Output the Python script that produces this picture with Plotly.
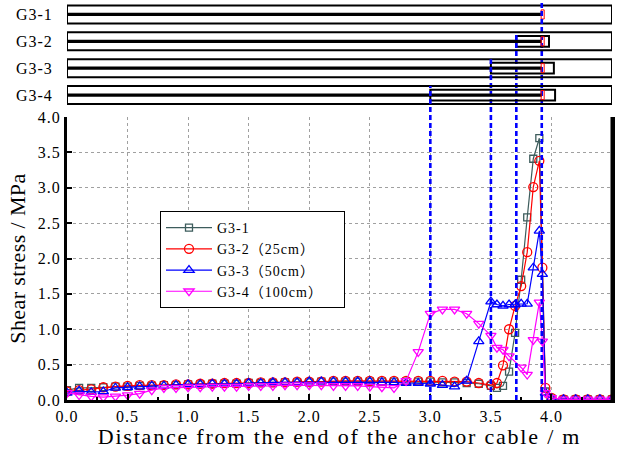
import plotly.graph_objects as go

# ---------------- data ----------------
x_pos = [0.0, 0.1, 0.2, 0.3, 0.4, 0.5, 0.6, 0.7, 0.8, 0.9,
         1.0, 1.1, 1.2, 1.3, 1.4, 1.5, 1.6, 1.7, 1.8, 1.9,
         2.0, 2.1, 2.2, 2.3, 2.4, 2.5, 2.6, 2.7, 2.8, 2.9,
         3.0, 3.1, 3.2, 3.3, 3.4, 3.5,
         3.55, 3.6, 3.65, 3.7, 3.75, 3.8, 3.85, 3.9, 3.925, 3.95, 4.0,
         4.1, 4.2, 4.3, 4.4, 4.5]

g31 = [0.14, 0.17, 0.17, 0.18, 0.19, 0.19, 0.20, 0.20, 0.21, 0.21,
       0.22, 0.22, 0.23, 0.23, 0.23, 0.24, 0.24, 0.24, 0.25, 0.25,
       0.25, 0.26, 0.26, 0.26, 0.26, 0.26, 0.26, 0.26, 0.26, 0.26,
       0.26, 0.25, 0.25, 0.24, 0.23, 0.20,
       0.17, 0.20, 0.40, 0.95, 1.70, 2.58, 3.41, 3.70, None, 0.12, 0.02,
       0.01, 0.01, 0.01, 0.01, 0.01]

g32 = [0.12, 0.14, 0.15, 0.18, 0.19, 0.20, 0.21, 0.21, 0.21, 0.22,
       0.22, 0.23, 0.23, 0.24, 0.24, 0.24, 0.25, 0.25, 0.25, 0.26,
       0.26, 0.26, 0.27, 0.27, 0.27, 0.27, 0.27, 0.27, 0.27, 0.27,
       0.27, 0.27, 0.26, 0.26, 0.24, 0.21,
       0.24, 0.49, 1.00, 1.33, 1.61, 2.09, 3.01, 3.38, 1.87, 0.17, 0.03,
       0.01, 0.01, 0.01, 0.01, 0.01]

g33 = [0.10, 0.13, 0.11, 0.12, 0.17, 0.18, 0.19, 0.20, 0.20, 0.21,
       0.22, 0.22, 0.23, 0.23, 0.23, 0.24, 0.24, 0.25, 0.25, 0.25,
       0.26, 0.26, 0.26, 0.26, 0.26, 0.26, 0.25, 0.25, 0.24, 0.24,
       0.23, 0.21, 0.19, 0.27, 0.83, 1.39,
       1.35, 1.33, 1.35, 1.35, 1.36, 1.36, 1.87, 2.39, 1.78, 0.10, 0.02,
       0.01, 0.01, 0.01, 0.01, 0.01]

g34 = [0.10, 0.07, 0.05, 0.04, 0.05, 0.07, 0.09, 0.14, 0.17, 0.17,
       0.18, 0.18, 0.19, 0.19, 0.19, 0.20, 0.20, 0.20, 0.21, 0.21,
       0.21, 0.21, 0.20, 0.20, 0.20, 0.19, 0.18, 0.17, 0.27, 0.68,
       1.22, 1.28, 1.28, 1.22, 1.08, 0.91,
       0.74, 0.71, 0.62, None, 0.46, 0.36, 0.85, 1.38, 0.83, 0.10, 0.03,
       0.01, 0.01, 0.01, 0.01, 0.01]

series_names = ["G3-1", "G3-2（25cm）", "G3-3（50cm）", "G3-4（100cm）"]

# schematic of the specimens (top panel)
row_labels = ["G3-1", "G3-2", "G3-3", "G3-4"]
row_level = [3, 2, 1, 0]
sleeve_start = [None, 3.71, 3.5, 3.0]
sleeve_end = [None, 3.98, 4.02, 4.03]
cable_end = 3.92
anchor_x = 3.92
marker_x = [3.92, 3.71, 3.5, 3.0]   # blue dashed reference lines

# ---------------- styling ----------------
SERIF = "Liberation Serif"
LEG_FONT = "Liberation Serif, Noto Sans CJK SC"
colors = ["#3d5c5c", "#ff0000", "#0000ff", "#ff00ff"]
symbols = ["square-open", "circle-open", "triangle-up-open", "triangle-down-open"]
msizes = [7, 9, 9, 9]

L, R, T, B = 67, 8, 1, 49
H = 449
plot_h = H - T - B
main_top = (400 - 117) / plot_h
y2_dom = [(400 - 108.5) / plot_h, 1.0]
y2_range = [-0.5, 3.5]


def y2_to_paper(v):
    return y2_dom[0] + (v - y2_range[0]) / (y2_range[1] - y2_range[0]) * (y2_dom[1] - y2_dom[0])


fig = go.Figure()
for name, ys, c, s, ms in zip(series_names, [g31, g32, g33, g34], colors, symbols, msizes):
    fig.add_trace(go.Scatter(
        x=x_pos, y=ys, name=name, mode="lines+markers", connectgaps=True,
        line=dict(color=c, width=1.2),
        marker=dict(symbol=s, size=ms, color=c, line=dict(color=c, width=1.3)),
        xaxis="x", yaxis="y"))

shapes = []
half_outer = 0.335
half_sleeve = 0.2
for i, lvl in enumerate(row_level):
    shapes.append(dict(type="rect", xref="x2", yref="y2", x0=0, x1=4.5,
                       y0=lvl - half_outer, y1=lvl + half_outer,
                       line=dict(color="black", width=2), fillcolor="rgba(0,0,0,0)"))
    shapes.append(dict(type="line", xref="x2", yref="y2", x0=-0.02, x1=cable_end,
                       y0=lvl, y1=lvl, line=dict(color="black", width=3.2)))
    if sleeve_start[i] is not None:
        shapes.append(dict(type="rect", xref="x2", yref="y2", x0=sleeve_start[i], x1=sleeve_end[i],
                           y0=lvl - half_sleeve, y1=lvl + half_sleeve,
                           line=dict(color="black", width=2), fillcolor="rgba(0,0,0,0)"))
    shapes.append(dict(type="rect", xref="x2", yref="y2", x0=anchor_x - 0.005, x1=anchor_x + 0.02,
                       y0=lvl - 0.17, y1=lvl + 0.17,
                       line=dict(color="red", width=1), fillcolor="rgba(255,255,255,0)"))
    shapes.append(dict(type="line", xref="x", yref="paper", x0=marker_x[i], x1=marker_x[i],
                       y0=0, y1=y2_to_paper(lvl + half_outer) + (0.01 if i == 0 else 0),
                       line=dict(color="#0000ff", width=2.6, dash="5px,3px"), layer="above"))

# right frame line of the main plot
shapes.append(dict(type="line", xref="x domain", yref="y domain", x0=1, x1=1, y0=0, y1=1,
                   line=dict(color="black", width=3), layer="above"))

fig.update_layout(
    width=620, height=449,
    margin=dict(l=L, r=R, t=T, b=B, autoexpand=False),
    paper_bgcolor="white", plot_bgcolor="white",
    font=dict(family=SERIF, size=16, color="black"),
    shapes=shapes,
    showlegend=True,
    legend=dict(x=(160 - L) / (620 - L - R), y=(400 - 211) / plot_h, xanchor="left", yanchor="top",
                bgcolor="white", bordercolor="black", borderwidth=1,
                font=dict(family=LEG_FONT, size=14), itemwidth=46, tracegroupgap=0),
    xaxis=dict(domain=[0, 1], anchor="y", range=[0, 4.5], dtick=0.5, tick0=0, tickformat=".1f",
               ticks="inside", ticklen=6, tickwidth=2, tickcolor="black",
               minor=dict(dtick=0.25, tick0=0, ticks="inside", ticklen=3, tickwidth=1.5,
                          tickcolor="black", showgrid=False),
               showline=True, linecolor="black", linewidth=3, mirror=False,
               showgrid=True, gridcolor="#a0a0a0", griddash="dot", gridwidth=1, zeroline=False,
               tickfont=dict(family=SERIF, size=16),
               title=dict(text="Distance from the end of the anchor cable / m",
                          font=dict(family=SERIF, size=22), standoff=5)),
    yaxis=dict(domain=[0, main_top], anchor="x", range=[0, 4.0], dtick=0.5, tick0=0, tickformat=".1f",
               ticks="inside", ticklen=5, tickwidth=2, tickcolor="black",
               showline=True, linecolor="black", linewidth=3, mirror=True,
               showgrid=True, gridcolor="#a0a0a0", griddash="dot", gridwidth=1, zeroline=False,
               tickfont=dict(family=SERIF, size=16),
               title=dict(text="Shear stress / MPa", font=dict(family=SERIF, size=22), standoff=10)),
    xaxis3=dict(overlaying="x", matches="x", anchor="y", side="top", range=[0, 4.5],
                showline=True, linecolor="#2f4f4f", linewidth=3,
                ticks="inside", dtick=0.25, tick0=0, ticklen=4, tickwidth=2, tickcolor="#2f4f4f",
                showticklabels=False, showgrid=False, zeroline=False),
    xaxis2=dict(domain=[0, 1], anchor="y2", matches="x", range=[0, 4.5], visible=False),
    yaxis2=dict(domain=y2_dom, anchor="x2", range=y2_range, tickvals=row_level, ticktext=row_labels,
                showgrid=False, zeroline=False, showline=False, ticks="outside", ticklen=10,
                tickcolor="rgba(0,0,0,0)", tickfont=dict(family=SERIF, size=16)),
)

# letter spacing as in the original (applied globally so the legend is re-measured with it)
post = """
document.body.style.margin='0';
var st=document.createElement('style');
st.textContent='.main-svg text{letter-spacing:1px;} .legendtext{letter-spacing:2.4px;} .main-svg .xtitle{letter-spacing:1.8px;} .main-svg .ytitle{letter-spacing:0.4px;}';
document.head.appendChild(st);
var gd=document.getElementById('{plot_id}');
Plotly.relayout(gd, {'legend.font.size': 14.01});
"""

fig.write_html("out.html", post_script=post, config={"displayModeBar": False})
